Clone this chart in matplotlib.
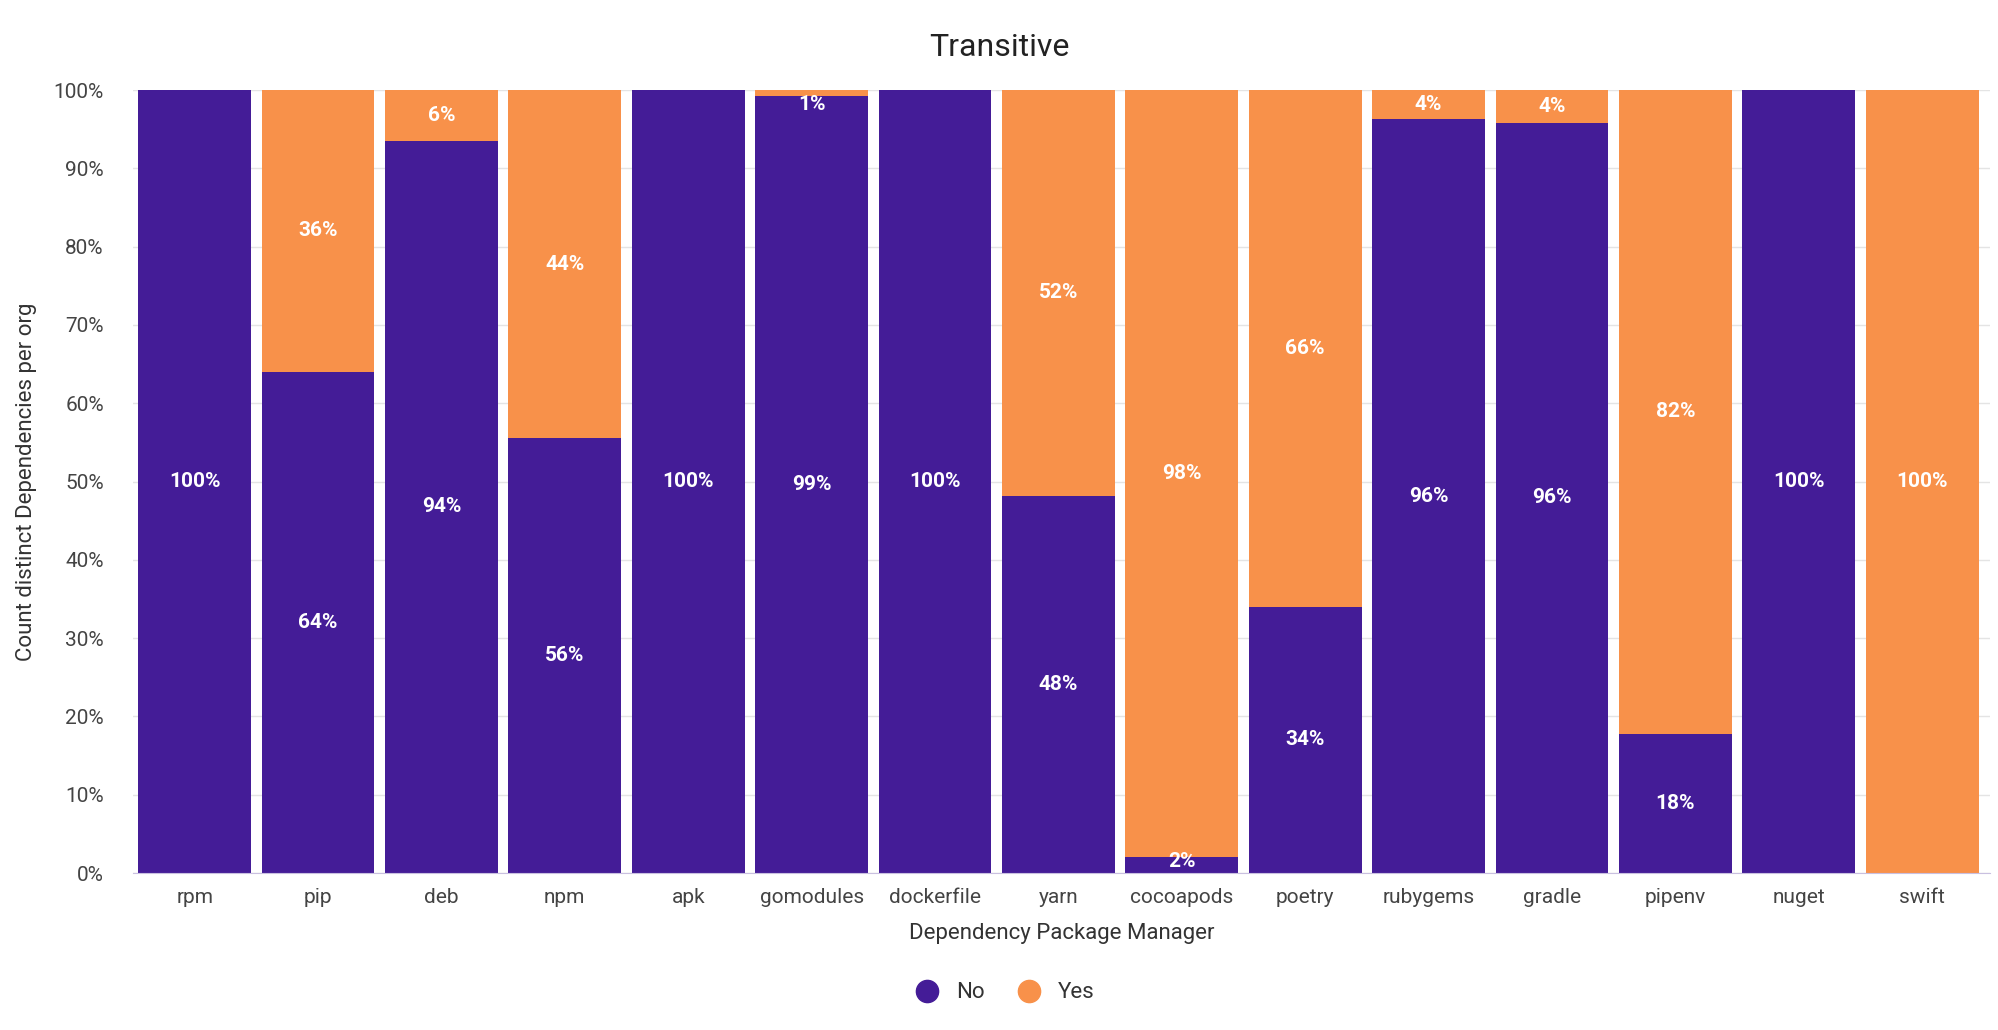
import matplotlib
matplotlib.use("Agg")
import matplotlib.pyplot as plt
from matplotlib.lines import Line2D
import numpy as np

managers = ["rpm", "pip", "deb", "npm", "apk", "gomodules", "dockerfile", "yarn",
            "cocoapods", "poetry", "rubygems", "gradle", "pipenv", "nuget", "swift"]
no_pct = [100, 64.0, 93.5, 55.5, 100, 99.2, 100, 48.2, 2.1, 34.0, 96.3, 95.8, 17.8, 100, 0]
yes_pct = [100 - v for v in no_pct]

purple = "#441c97"
orange = "#f8914a"

plt.rcParams["font.family"] = ["Roboto", "DejaVu Sans"]

fig = plt.figure(figsize=(19.99, 10.30), dpi=100)
ax = fig.add_axes([0.0665, 0.1524, 0.929, 0.7602])

x = np.arange(len(managers))
w = 0.915
ax.bar(x, no_pct, w, color=purple, label="No", zorder=2)
ax.bar(x, yes_pct, w, bottom=no_pct, color=orange, label="Yes", zorder=2)

# segment labels, kept a bit inside the plot like the original
for i in range(len(managers)):
    if no_pct[i] > 0:
        y = min(max(no_pct[i] / 2, 1.5), 98.2)
        ax.text(x[i], y, "%d%%" % round(no_pct[i]), ha="center", va="center",
                color="white", fontsize=15, fontweight="bold", zorder=3)
    if yes_pct[i] > 0:
        y = min(max(no_pct[i] + yes_pct[i] / 2, 1.5), 98.2)
        ax.text(x[i], y, "%d%%" % round(yes_pct[i]), ha="center", va="center",
                color="white", fontsize=15, fontweight="bold", zorder=3)

ax.set_xlim(-0.5, len(managers) - 0.45)
ax.set_ylim(0, 100)
ax.set_yticks(range(0, 101, 10))
ax.set_yticklabels(["%d%%" % t for t in range(0, 101, 10)])
ax.set_xticks(x)
ax.set_xticklabels(managers)
ax.tick_params(axis="both", length=0, labelsize=15, labelcolor="#444444")
ax.tick_params(axis="x", pad=11)
ax.tick_params(axis="y", pad=21)
ax.grid(axis="y", color="#e4e4e4", linewidth=1, zorder=0)
for s in ["top", "right", "left"]:
    ax.spines[s].set_visible(False)
ax.spines["bottom"].set_color("#c9c0e0")

ax.set_xlabel("Dependency Package Manager", fontsize=16, color="#333333", labelpad=11)
ax.set_ylabel("Count distinct Dependencies per org", fontsize=16, color="#333333", labelpad=12)
fig.suptitle("Transitive", fontsize=23, color="#222222", y=0.968)

handles = [Line2D([], [], marker="o", linestyle="", markersize=16, color=purple),
           Line2D([], [], marker="o", linestyle="", markersize=16, color=orange)]
fig.legend(handles, ["No", "Yes"], loc="center", bbox_to_anchor=(0.5, 0.036), ncol=2,
           frameon=False, fontsize=16, handletextpad=0.3, columnspacing=1.0,
           labelcolor="#333333")

fig.savefig("out.png", dpi=100)
